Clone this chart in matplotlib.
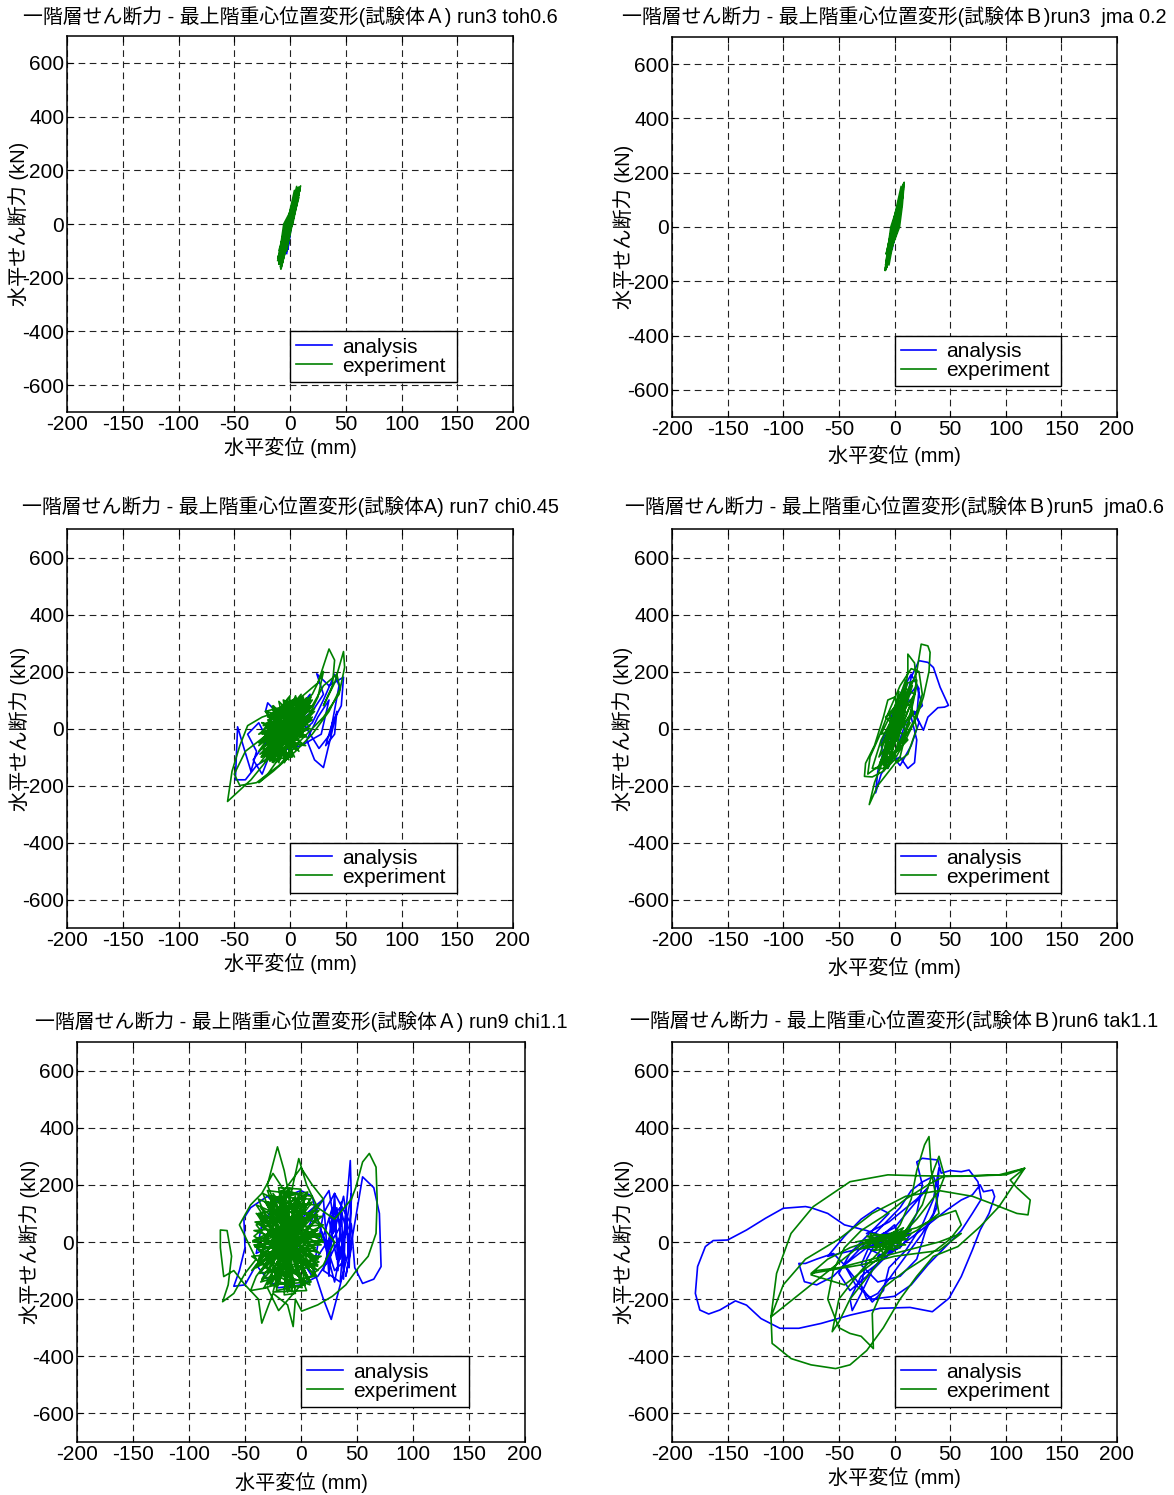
import numpy as np
import matplotlib.pyplot as plt

plt.rcParams['font.family'] = ['Liberation Sans', 'Noto Sans CJK JP']
plt.rcParams['axes.unicode_minus'] = False

W, H = 1174, 1495

# ---- data: (displacement mm, shear kN) ----
p1_analysis = [(-3, -110), (5, 115), (-2, -95), (6, 125), (-4, -105), (4, 90), (-2.5, -80),
               (5.5, 110), (-3, -100), (3, 60), (-1.5, -70), (4.5, 100)]
p1_experiment = [(-11, -136), (6, 110), (-8, -167), (9.5, 142), (-9, -120), (4, 125), (-8, -150),
                 (8, 100), (-10, -100), (3, 90), (-6.5, -130), (7, 135), (-7, -95), (2, 60),
                 (-7.5, -155), (5, 80), (-8, -140), (8.5, 128), (-3, -100), (6, 140), (-9.5, -125),
                 (-10, -150), (7, 120), (-6, -110), (8, 138), (-11, -128), (5, 95), (-7, -120),
                 (9, 130), (-9, -140), (4, 70), (-4, -80), (7.5, 115), (-8.5, -160), (6, 105),
                 (-10, -140), (-3, -50), (2.4, 0), (6, 70), (9, 135), (2, 60), (-5.6, 0), (-8, -70),
                 (-10, -140), (-2, -30), (2, 20), (7, 110), (1, 50), (-5, -10), (-9, -100),
                 (-8.3, -167), (-2, -70), (1, -10), (5, 60), (8, 120), (0, 40), (-4, -20), (-7, -110),
                 (1, 20)]

p2_analysis = [(-2, -80), (6.5, 134), (-1, -60), (7, 110), (-3, -90), (5, 120), (0, -30), (6, 90)]
p2_experiment = [(-8, -155), (7, 130), (-6, -120), (8.7, 164), (-5, -140), (4, 100), (-7.5, -100),
                 (6, 150), (-4, -90), (7.5, 120), (-8.4, -160), (3, 80), (-2, -60), (8, 145),
                 (-5.5, -125), (5, 110), (-6.5, -135), (-7, -150), (8, 155), (-5, -110), (6.5, 125),
                 (-8, -140), (5, 90), (-3, -70), (7.5, 140), (-6, -130), (4, 60), (-7.8, -158),
                 (8.2, 160), (-8, -150), (-1, -60), (4.5, 0), (7, 80), (8.7, 164), (3, 80), (-3.3, 0),
                 (-6, -80), (-8, -150), (-1, -40), (4, 20), (7.5, 120), (2, 60), (-3, -20), (-7, -110),
                 (-8.4, -160), (-2, -70), (3, -5), (6, 70), (8, 140), (1, 40), (-2, -30), (-6, -120),
                 (2, 40)]

p3_analysis = [(0, 0), (20, 60), (30, 120), (24, 192), (35, 150), (48, 180), (46, 80), (38, 20),
               (32, -60), (40, -20), (42, 60), (30, -137), (22, -110), (15, -40), (25, 40), (35, 100),
               (28, -20), (10, -60), (-10, -80), (-30, -130), (-40, -180), (-49, -180), (-47, 6),
               (-42, -60), (-35, -150), (-30, -80), (-38, -20), (-28, 20), (-20, -40), (-33, -110),
               (-25, -160), (-15, -60), (-5, 30), (10, 80), (18, 120), (12, 40), (0, -20), (-10, 10),
               (-22, 60), (-20, 90), (-8, 40), (5, 60), (15, 0), (26, -70), (36, -20), (44, 150),
               (40, 190), (30, 100), (20, 20), (5, -30), (-15, -50)]
p3_experiment = [(0, 0), (-10, -60), (-35, -180), (-56, -256), (-52, -150), (-45, -60), (-38, 10),
                 (-25, 40), (-10, 60), (10, 110), (25, 160), (35, 279), (40, 240), (38, 150), (30, 80),
                 (40, 160), (48, 270), (49, 215), (44, 120), (30, 40), (10, -40), (-10, -130),
                 (-30, -190), (-45, -200), (-50, -160), (-40, -80), (-20, -20), (0, 40), (20, 120),
                 (30, 200), (25, 110), (15, 30), (0, -50), (-20, -160), (-28, -190), (-15, -150),
                 (5, -80), (20, -20), (35, 60), (45, 140), (42, 190), (30, 150), (20, 80), (5, 20),
                 (-25, -100), (15, 100), (-20, -40), (20, 40), (-15, -120), (10, 120), (-28, -60),
                 (18, 80), (-10, -110), (5, 110), (-22, -20), (22, 70), (-18, -90), (12, 20), (-5, -120),
                 (0, 115), (-25, -10), (15, -30), (-12, 60), (8, -80), (-20, 30), (20, 100), (-8, -60),
                 (-15, 80), (10, -20), (-24, -80), (16, 60), (-6, 100), (2, -100), (-18, -110), (18, 10),
                 (-10, 40), (6, 90), (-26, -40), (14, -60), (-2, -20), (-14, -20), (4, 40), (-20, -70),
                 (12, 90), (-8, 20), (8, -40), (-16, -50), (2, 70), (-4, -80), (10, 50), (-12, -90),
                 (-27, -121), (19, 110), (-26, -50), (18, 40), (-22, -118), (15, 108), (-25, -20),
                 (14, 0), (-18, -115), (12, 110), (-24, 10), (16, 70), (-12, -118), (8, 105), (-20, 40),
                 (19, 80), (-27, -90), (10, -30), (-14, 70), (4, -100), (-22, 60), (17, 100), (-9, -110),
                 (-3, 95), (-19, -60), (13, 50), (-7, 80), (0, -90), (-25, -70), (11, 75), (-16, -30),
                 (6, -60), (-11, 50), (2, 100), (-21, -100), (15, 20), (-5, -40), (9, 60), (-17, 0),
                 (-1, -110), (-23, -40), (7, 40), (-13, -80), (3, 70), (-8, -30), (12, -10), (-26, -100),
                 (18, 90), (-15, 30), (-2, 20),
                 (-28, -20), (-13, 27), (-22, 60), (-7, 45), (-10, 95), (0, 55), (5, 115), (7, 47),
                 (18, 100), (9, 27), (22, 60), (7, -2), (18, 0), (3, -27), (10, -50), (-2, -52),
                 (0, -100), (-7, -62), (-10, -120), (-13, -60), (-22, -115), (-16, -42), (-28, -80),
                 (-16, -12), (-25, 20), (-12, 10), (-16, 78), (-8, 35), (-2, 105), (-2, 40), (12, 108),
                 (4, 35), (20, 80), (6, 15), (20, 30), (4, -10), (14, -25), (0, -30), (5, -75), (-4, -40),
                 (-5, -110), (-9, -45), (-16, -118), (-12, -38), (-25, -98), (-14, -25), (-28, -50),
                 (-13, -8), (-25, 20)]

p4_analysis = [(0, 0), (10, 80), (15, 180), (22, 238), (30, 232), (35, 214), (41, 145), (48.5, 81),
               (45, 75), (39, 73), (30, 40), (26, -6), (20, 40), (22, 140), (15, 190), (5, 120), (-3, 40),
               (-8, -60), (-15, -150), (-17, -226), (-12, -160), (-5, -120), (5, -100), (12, -140),
               (18, -120), (20, -40), (15, 40), (25, 80), (20, 150), (10, 100), (0, 20), (-10, -90),
               (-6, -140), (3, -60), (10, 20), (18, 60), (22, 20), (15, -60), (5, -130), (-5, -80),
               (-2, 10), (8, 90), (12, 130), (5, 60), (-5, -30), (-10, -120), (-12, -50), (0, 50), (14, 100)]
p4_experiment = [(0, 0), (10, 100), (20, 200), (24, 296), (30, 290), (32, 267), (31, 200), (26, 110),
                 (20, 40), (10, -40), (0, -110), (-10, -150), (-20, -170), (-27, -168), (-26, -122),
                 (-18, -60), (-10, 40), (-6, 100), (0, 110), (5, 60), (10, -20), (5, -100), (-5, -150),
                 (-15, -200), (-22.7, -267), (-18, -190), (-10, -110), (0, -30), (8, 80), (12, 200),
                 (12, 261), (18, 230), (20, 150), (15, 60), (8, -40), (0, -80), (-10, -120), (-24, -160),
                 (-22, -100), (-14, -30), (-5, 60), (5, 150), (15, 210), (22, 200), (25, 120), (18, 30),
                 (5, -60), (-8, -140), (-20, -140), (-12, -40), (0, 50), (10, 140), (18, 120), (10, 40),
                 (0, -40), (-10, -90), (-4, 20), (6, 90), (15, 80), (20, 0), (12, -90), (2, -120),
                 (-8, -60), (0, 30), (12, 160), (20, 170), (14, 50),
                 (-15, -140), (15, 160), (-12, -60), (18, 120), (-10, -150), (10, 170), (-14, -100),
                 (17, 60), (-6, -140), (8, 140), (-12, -20), (14, 20), (-4, -120), (6, 100), (-8, 40),
                 (12, -40), (-10, -130), (16, 150), (-2, -80), (4, 130), (-6, -20), (10, 60), (-13, -120),
                 (2, -40), (-5, 50), (12, 110), (0, -100), (-8, -80), (8, 20), (-3, 0)]

p5_analysis = [(0, 0), (15, 120), (25, 180), (30, 60), (20, -100), (35, -140), (40, 100), (44, 285),
               (45, 150), (42, -40), (35, -150), (27, -271), (20, -200), (10, -80), (30, 40), (38, 160),
               (42, 50), (32, -60), (25, 80), (35, 120), (45, -20), (40, -120), (55, 228), (65, 190),
               (70, 100), (71.5, -86), (65, -130), (55, -145), (48, -90), (45, 60), (30, 170), (20, 100),
               (10, -120), (0, -60), (-10, 80), (-30, 160), (-45, 120), (-51, 83), (-50, -20), (-55, -100),
               (-60, -155), (-50, -150), (-40, -80), (-30, -130), (-20, -160), (0, -150), (15, -120),
               (25, -60), (35, 20), (40, -60), (30, -100), (20, 20), (28, 120), (36, 60), (24, -20),
               (16, 60), (10, 160), (0, 180), (-20, 150), (-35, 60), (-40, -40), (-30, -20), (-10, 40),
               (5, 100), (20, 150), (25, -120), (30, 170), (33, -100), (36, 140), (38, -130), (40, 120),
               (43, -90), (45, 170), (35, -60), (28, 100), (22, -80), (32, 120), (37, -20), (41, 80),
               (30, -140), (18, 40)]
p5_experiment = [(0, 0), (-20, 100), (-30, 200), (-21, 333), (-15, 250), (-10, 150), (-2, 292), (5, 200),
                 (15, 120), (30, 80), (45, 150), (49, 192), (55, 280), (61, 310), (67, 262), (68, 150),
                 (67, 30), (60, -50), (52, -86), (40, -150), (28, -190), (15, -220), (0.6, -242),
                 (-5, -200), (-7, -296), (-12, -220), (-25, -180), (-35, -284), (-38, -200), (-50, -150),
                 (-60, -100), (-69, -121), (-72, -20), (-72, 42), (-66, 40), (-62, -50), (-65, -150),
                 (-70, -209), (-60, -180), (-50, -110), (-40, -60), (-55, 60), (-45, 130), (-35, 170),
                 (-25, 240), (-15, 180), (0, 260), (10, 200), (20, 150), (10, 100), (30, 0), (20, -80),
                 (0, -150), (-20, -240), (-30, -160), (-45, -170),
                 (-40, -120), (10, 140), (-35, 80), (15, -100), (-42, 20), (5, 170), (-30, -150), (18, 60),
                 (-38, 150), (-5, -160), (-44, -50), (12, -30), (-25, 170), (0, -130), (-40, 60), (16, 110),
                 (-32, -90), (8, -150), (-20, 160), (-10, -140), (-42, -10), (20, 0), (-28, 120), (-2, -100),
                 (-36, -140), (14, 80), (-15, 150), (-22, -160), (4, 130), (-38, 100), (10, -90), (-30, 30),
                 (-5, 160), (-18, -120), (18, -50), (-34, -40), (2, 60), (-26, -70), (12, 40), (-40, 130),
                 (-8, -60), (-16, 90), (6, -20), (-30, -110), (0, 110), (-24, 20), (14, -120), (-12, 60),
                 (-44, -100), (-6, 20), (-20, -40), (8, 90), (-34, 170), (-14, -30), (16, 30), (-28, -20),
                 (-2, -40), (-18, 40),
                 (-43, 0), (18, 20), (-40, 100), (15, -80), (-35, -130), (10, 160), (-30, 180), (5, -170),
                 (-25, -175), (0, 185), (-20, 190), (-5, -180), (-15, -185), (-10, 190), (-38, -60),
                 (20, 60), (-42, 40), (17, -40), (-36, 120), (12, -120), (-33, -160), (8, 150), (-28, 160),
                 (3, -150), (-22, -170), (-2, 170), (-18, 180), (-8, -175), (-12, -160), (-14, 175),
                 (-40, -90), (19, 90), (-41, 70), (16, -70), (-37, -110), (14, 130), (-32, 140), (9, -140),
                 (-27, -150), (6, 175), (-24, 150), (1, -160), (-19, -140), (-4, 150), (-16, 130),
                 (-9, -130), (-11, 120), (-13, -110), (-39, -20), (18, -10), (-30, 90), (11, -60),
                 (-26, -100), (7, 100), (-21, 110), (-1, -120), (-17, -90), (-6, 80), (-3, -70), (-23, 60),
                 (13, -20), (-29, -40), (15, 40), (-34, 10), (-7, -20), (-31, 70), (4, 20), (-37, -30),
                 (2, -50), (-25, 40), (-12, -50), (-20, -10), (8, 30), (-35, -70), (0, 80), (-28, 0),
                 (-10, 30), (-18, -60), (-4, 0),
                 (19, 5), (4.5, 31), (14.8, 95), (0.1, 75), (3.5, 161), (-7.6, 101), (-12, 185),
                 (-16.4, 101), (-27.5, 161), (-24.1, 75), (-38.8, 95), (-28.5, 31), (-43, 5), (-28.5, -21),
                 (-38.8, -85), (-24.1, -65), (-27.5, -151), (-16.4, -91), (-12, -175), (-7.6, -91),
                 (3.5, -151), (0.1, -65), (14.8, -85), (4.5, -21), (19, 5),
                 (17.2, 27), (-3.4, 26), (11.4, 109), (-6.3, 48), (-0.7, 163), (-10.8, 58), (-15.9, 174),
                 (-15.6, 55), (-29.9, 141), (-19.4, 38), (-39.2, 70), (-21.2, 12), (-41.2, -17),
                 (-20.6, -16), (-35.4, -99), (-17.7, -38), (-23.3, -153), (-13.2, -48), (-8.1, -164),
                 (-8.4, -45), (5.9, -131), (-4.6, -28), (15.2, -60), (-2.8, -2), (17.2, 27)]

p6_analysis = [(0, 0), (-10, 20), (-25, 40), (-45, 60), (-60, 100), (-75, 120), (-80, 124), (-100, 118),
               (-116, 83), (-133, 42), (-150, 7), (-163, 5), (-170, -16), (-177, -86), (-179, -180),
               (-175, -238), (-167, -252), (-157, -238), (-143, -206), (-133, -221), (-120, -268),
               (-103, -302), (-86, -302), (-66, -285), (-40, -256), (-13, -232), (14, -229), (34, -244),
               (49, -197), (60, -121), (70, -28), (77, 42), (85, 100), (90, 159), (88, 182), (80, 176),
               (77, 200), (70, 165), (60, 147), (47, 112), (30, 60), (10, 0), (-10, -60), (-30, -120),
               (-40, -200), (-38, -240), (-30, -180), (-20, -100), (-5, -40), (10, 20), (20, 100),
               (25, 200), (20, 280), (25, 293), (39, 287), (42, 241), (50, 250), (60, 246), (67, 252),
               (75, 211), (78, 150), (70, 100), (60, 40), (45, -20), (30, -80), (15, -150), (0, -190),
               (-20, -200), (-35, -150), (-45, -80), (-55, -40), (-70, -60), (-80, -75), (-86, -75),
               (-81, -139), (-70, -150), (-55, -120), (-40, -60), (-25, 0), (-10, 60), (5, 120), (15, 180),
               (25, 210), (35, 230), (40, 180), (35, 100), (25, 30), (10, -50), (-5, -130), (-15, -180),
               (-25, -200), (-30, -150), (-25, -60), (-15, 10), (0, 60), (5, 20), (-5, -30), (-15, -50),
               (5, -20), (15, 30), (-10, 30), (5, 10), (-20, -10), (10, 40), (-5, 0),
               (-60, -50), (-45, 20), (-30, 80), (-15, 120), (-5, 100), (-20, 40), (-40, -40), (-50, -110),
               (-40, -170), (-25, -120), (-10, -50), (-25, -20), (-45, -80), (-35, -130), (-20, -210),
               (-10, -170), (-5, -90), (10, -30), (25, 60), (35, 150), (40, 260), (38, 120), (28, 40),
               (20, -60), (5, -120), (-15, -140), (-30, -80), (-20, 10), (0, 50), (15, 120), (30, 190),
               (20, 150), (-5, 70), (-25, 30)]
p6_experiment = [(0, 0), (20, 40), (40, 100), (33, 250), (31, 369), (27, 340), (20, 250), (15, 150),
                 (5, 60), (-10, -20), (-30, -100), (-50, -200), (-56, -314), (-50, -280), (-40, -200),
                 (-20, -100), (0, 0), (20, 80), (40, 180), (45, 230), (40, 300), (35, 250), (25, 130),
                 (10, 40), (-15, -60), (-45, -150), (-75, -115), (-70, -100), (-50, -90), (-20, -60),
                 (10, -30), (40, 0), (60, 30), (40, -30), (0, -50), (-30, -80), (-60, -100), (-75, -110),
                 (-60, -60), (-40, -20), (-10, 20), (20, 50), (40, 90), (55, 110), (60, 60), (50, 10),
                 (30, -50), (10, -100), (-10, -160), (-20, -250), (-19, -373), (-30, -330), (-40, -320),
                 (-50, -300), (-60, -200), (-55, -100), (-45, -20), (-30, 40), (-10, 90), (10, 150),
                 (30, 200), (44, 229), (94, 235), (117, 258), (104, 217), (110, 190), (122, 147),
                 (120, 95), (110, 100), (87, 135), (70, 160), (40, 180), (10, 160), (-20, 100), (-50, 10),
                 (-80, -60), (-100, -150), (-111, -262), (-110, -355), (-106, -367), (-93, -408),
                 (-75, -430), (-53, -443), (-40, -430), (-25, -380), (-10, -300), (5, -200), (20, -120),
                 (35, -50), (57, -16), (77, 54), (94, 124), (117, 258), (100, 235), (60, 230), (20, 232),
                 (-6, 235), (-40, 211), (-73, 124), (-93, 30), (-106, -110), (-111, -262),
                 (-30, -10), (10, 30), (-25, 20), (5, -20), (-20, -30), (15, 40), (-35, 0), (0, 20),
                 (-15, 10), (10, -10), (-28, -20), (8, 50), (-10, -40), (-22, 30), (12, 10), (-18, -10),
                 (2, 40), (-32, -25), (6, 0), (-12, 25), (0, -30), (-26, 5), (14, 25), (-8, 5)]

titles = ["一階層せん断力 - 最上階重心位置変形(試験体Ａ) run3 toh0.6",
          "一階層せん断力 - 最上階重心位置変形(試験体Ｂ)run3  jma 0.2",
          "一階層せん断力 - 最上階重心位置変形(試験体A) run7 chi0.45",
          "一階層せん断力 - 最上階重心位置変形(試験体Ｂ)run5  jma0.6",
          "一階層せん断力 - 最上階重心位置変形(試験体Ａ) run9 chi1.1",
          "一階層せん断力 - 最上階重心位置変形(試験体Ｂ)run6 tak1.1"]
series = [(p1_analysis, p1_experiment), (p2_analysis, p2_experiment),
          (p3_analysis, p3_experiment), (p4_analysis, p4_experiment),
          (p5_analysis, p5_experiment), (p6_analysis, p6_experiment)]

xticks = np.arange(-200, 201, 50)
yticks = np.arange(-600, 601, 200)

# ---- layout in pixels: frame (left, top, right, bottom), title y, xlabel y, ylabel x ----
frames = [(67, 36, 513, 412), (672, 37, 1117, 417),
          (67, 529, 513, 928), (672, 529, 1117, 928),
          (77, 1042, 525, 1442), (672, 1042, 1117, 1442)]
title_y = [17, 17, 507, 507, 1022, 1021]
xlabel_y = [447, 455, 963, 967, 1482, 1477]
ylabel_x = [19, 624, 20, 623, 30, 624]

fig = plt.figure(figsize=(W / 100, H / 100), dpi=100)

for i, (ana, exp) in enumerate(series):
    l, t, r, b = frames[i]
    ax = fig.add_axes([l / W, 1 - b / H, (r - l) / W, (b - t) / H])
    ax.set_xlim(-200, 200)
    ax.set_ylim(-700, 700)
    ax.set_axisbelow(True)

    xa, ya = np.array(ana).T
    xe, ye = np.array(exp).T
    ax.plot(xa, ya, color='#0000ff', lw=1.2, label='analysis', solid_joinstyle='round')
    ax.plot(xe, ye, color='#008000', lw=1.2, label='experiment', solid_joinstyle='round')

    ax.set_xticks(xticks)
    ax.set_yticks(yticks)
    ax.set_xticklabels([str(v) for v in xticks])
    ax.set_yticklabels([str(v) for v in yticks])
    ax.tick_params(direction='in', length=4, top=True, right=True, labelsize=15, pad=2)
    ax.grid(True, color='#222222', linestyle=(0, (6, 4)), lw=0.8)
    for sp in ax.spines.values():
        sp.set_linewidth(1.1)

    leg = ax.legend(loc='upper left', bbox_to_anchor=(0, -600, 150, 200),
                    bbox_transform=ax.transData, mode='expand', borderaxespad=0,
                    fancybox=False, edgecolor='black', framealpha=1, fontsize=15,
                    handlelength=1.7, handletextpad=0.5, labelspacing=0.0, borderpad=0.3)
    leg.get_frame().set_linewidth(1.0)

    cx = (l + r) / 2
    fig.text(cx / W, 1 - title_y[i] / H, titles[i], ha='center', va='center', fontsize=14.3)
    fig.text(cx / W, 1 - xlabel_y[i] / H, '水平変位 (mm)', ha='center', va='center', fontsize=14.5)
    fig.text(ylabel_x[i] / W, 1 - (t + b) / 2 / H, '水平せん断力 (kN)', ha='center', va='center',
             rotation=90, fontsize=14.5)

fig.savefig('out.png', dpi=100)
